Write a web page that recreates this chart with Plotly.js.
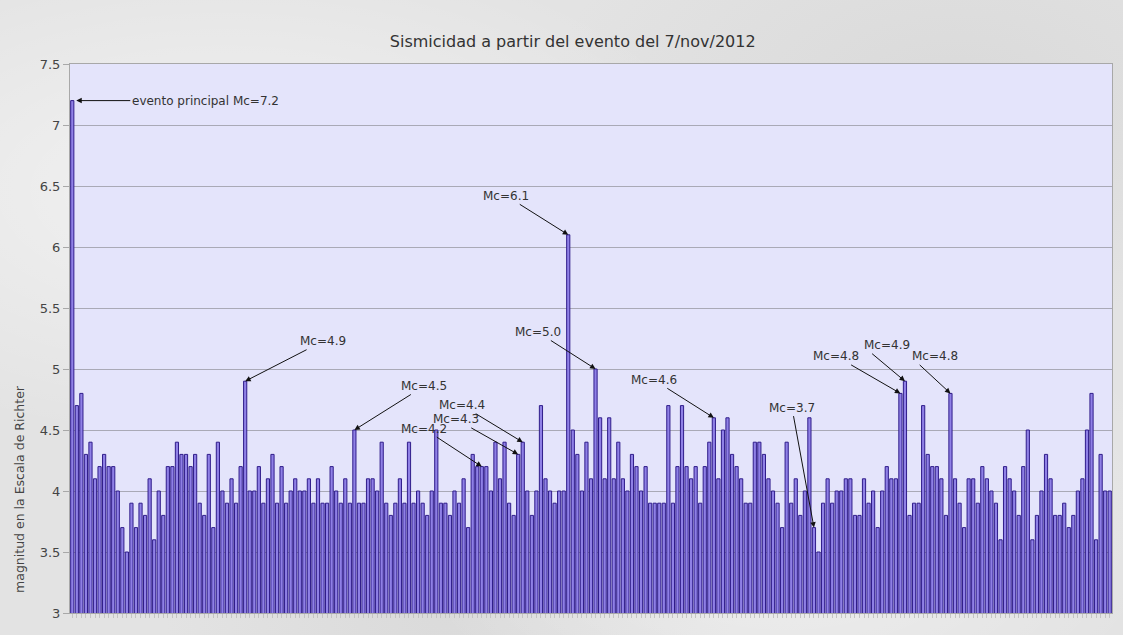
<!DOCTYPE html>
<html>
<head>
<meta charset="utf-8">
<script src="https://cdn.plot.ly/plotly-3.0.1.min.js"></script>
<style>
  html, body { margin: 0; padding: 0; }
  body {
    width: 1123px; height: 635px; overflow: hidden;
    background-color: #e3e3e3;
    background-image:
      radial-gradient(ellipse at 20% 30%, rgba(255,255,255,0.55), rgba(255,255,255,0) 40%),
      radial-gradient(ellipse at 70% 80%, rgba(255,255,255,0.45), rgba(255,255,255,0) 35%),
      radial-gradient(ellipse at 85% 15%, rgba(200,200,200,0.35), rgba(200,200,200,0) 30%),
      radial-gradient(ellipse at 40% 95%, rgba(205,205,205,0.4), rgba(205,205,205,0) 30%);
  }
  #chart { width: 1123px; height: 635px; }
</style>
</head>
<body>
<div id="chart"></div>
<script>
// Magnitudes of each seismic event, in order, from the main event of 7/nov/2012
const magnitudes = [
  7.2, 4.7, 4.8, 4.3, 4.4, 4.1, 4.2, 4.3, 4.2, 4.2,
  4.0, 3.7, 3.5, 3.9, 3.7, 3.9, 3.8, 4.1, 3.6, 4.0,
  3.8, 4.2, 4.2, 4.4, 4.3, 4.3, 4.2, 4.3, 3.9, 3.8,
  4.3, 3.7, 4.4, 4.0, 3.9, 4.1, 3.9, 4.2, 4.9, 4.0,
  4.0, 4.2, 3.9, 4.1, 4.3, 3.9, 4.2, 3.9, 4.0, 4.1,
  4.0, 4.0, 4.1, 3.9, 4.1, 3.9, 3.9, 4.2, 4.0, 3.9,
  4.1, 3.9, 4.5, 3.9, 3.9, 4.1, 4.1, 4.0, 4.4, 3.9,
  3.8, 3.9, 4.1, 3.9, 4.4, 3.9, 4.0, 3.9, 3.8, 4.0,
  4.5, 3.9, 3.9, 3.8, 4.0, 3.9, 4.1, 3.7, 4.3, 4.2,
  4.2, 4.2, 4.0, 4.4, 4.1, 4.4, 3.9, 3.8, 4.3, 4.4,
  4.0, 3.8, 4.0, 4.7, 4.1, 4.0, 3.9, 4.0, 4.0, 6.1,
  4.5, 4.3, 4.0, 4.4, 4.1, 5.0, 4.6, 4.1, 4.6, 4.1,
  4.4, 4.1, 4.0, 4.3, 4.2, 4.0, 4.2, 3.9, 3.9, 3.9,
  3.9, 4.7, 3.9, 4.2, 4.7, 4.2, 4.1, 4.2, 3.9, 4.2,
  4.4, 4.6, 4.1, 4.5, 4.6, 4.3, 4.2, 4.1, 3.9, 3.9,
  4.4, 4.4, 4.3, 4.1, 4.0, 3.9, 3.7, 4.4, 3.9, 4.1,
  3.8, 4.0, 4.6, 3.7, 3.5, 3.9, 4.1, 3.9, 4.0, 4.0,
  4.1, 4.1, 3.8, 3.8, 4.1, 3.9, 4.0, 3.7, 4.0, 4.2,
  4.1, 4.1, 4.8, 4.9, 3.8, 3.9, 3.9, 4.7, 4.3, 4.2,
  4.2, 4.1, 3.8, 4.8, 4.1, 3.9, 3.7, 4.1, 4.1, 3.9,
  4.2, 4.1, 4.0, 3.9, 3.6, 4.2, 4.1, 4.0, 3.8, 4.2,
  4.5, 3.6, 3.8, 4.0, 4.3, 4.1, 3.8, 3.8, 3.9, 3.7,
  3.8, 4.0, 4.1, 4.5, 4.8, 3.6, 4.3, 4.0, 4.0
];

// Event number (1-based) of each labelled event and its label text
const labelledEvents = [39, 63, 91, 99, 100, 110, 116, 142, 164, 183, 184, 194];
const labelTexts = ["Mc=4.9", "Mc=4.5", "Mc=4.2", "Mc=4.3", "Mc=4.4", "Mc=6.1",
                    "Mc=5.0", "Mc=4.6", "Mc=3.7", "Mc=4.8", "Mc=4.9", "Mc=4.8"];
// Pixel offsets of each label from the bar top it points to, and anchoring
const labelOffsetX = [78, 70, -58, -62, -61, -62, -58, -60, -22, -64, -43, -40];
const labelOffsetY = [-40, -44, -38, -35, -37, -39, -37, -38, -120, -37, -36, -37];
const labelAnchor = ['center', 'center', 'center', 'center', 'center', 'center',
                     'center', 'center', 'center', 'center', 'left', 'left'];

const mainEventLabel = "evento principal Mc=7.2";
const yTicks = [3, 3.5, 4, 4.5, 5, 5.5, 6, 6.5, 7, 7.5];
const yTickText = ["3", "3.5", "4", "4.5", "5", "5.5", "6", "6.5", "7", "7.5"];

const eventNumbers = magnitudes.map((_, i) => i + 1);

const trace = {
  type: 'bar',
  x: eventNumbers,
  y: magnitudes,
  marker: { color: '#8f80e6', line: { color: '#2f1c8a', width: 1 } },
  hoverinfo: 'x+y'
};

const annotations = labelledEvents.map((ev, k) => ({
  x: ev, y: magnitudes[ev - 1], xref: 'x', yref: 'y',
  text: labelTexts[k],
  showarrow: true, arrowhead: 2, arrowsize: 1.1, arrowwidth: 1, arrowcolor: '#111',
  ax: labelOffsetX[k], ay: labelOffsetY[k], xanchor: labelAnchor[k],
  font: { family: 'DejaVu Sans, sans-serif', size: 12, color: '#333' }
}));

annotations.push({
  x: 1, y: magnitudes[0], xref: 'x', yref: 'y',
  text: mainEventLabel,
  showarrow: true, arrowhead: 2, arrowsize: 1.1, arrowwidth: 1, arrowcolor: '#111',
  ax: 58, ay: 0, xanchor: 'left', standoff: 4,
  font: { family: 'DejaVu Sans, sans-serif', size: 12, color: '#333' }
});

annotations.push({
  xref: 'paper', yref: 'paper', x: 0, y: 0.226, xshift: -50,
  xanchor: 'center', yanchor: 'middle',
  text: 'magnitud en la Escala de Richter', textangle: -90,
  showarrow: false,
  font: { family: 'DejaVu Sans, sans-serif', size: 12.5, color: '#444' }
});

const layout = {
  width: 1123, height: 635,
  paper_bgcolor: 'rgba(0,0,0,0)',
  plot_bgcolor: '#e4e4fb',
  margin: { l: 70, r: 11, t: 64, b: 22 },
  bargap: 0.3,
  showlegend: false,
  title: {
    text: 'Sismicidad a partir del evento del 7/nov/2012',
    font: { family: 'DejaVu Sans, sans-serif', size: 16, color: '#333' },
    xref: 'container', x: 0.51, xanchor: 'center',
    yref: 'container', y: 0.935, yanchor: 'middle'
  },
  xaxis: {
    range: [0.5, magnitudes.length + 0.5],
    showticklabels: false,
    ticks: 'outside', ticklen: 4, tickcolor: '#c4c4c4', tickwidth: 1,
    tickmode: 'linear', tick0: 1, dtick: 1,
    showgrid: false, zeroline: false,
    showline: true, linecolor: '#a8a8a8', linewidth: 1, mirror: true
  },
  yaxis: {
    range: [3, 7.5],
    tickmode: 'array', tickvals: yTicks, ticktext: yTickText,
    ticks: 'outside', ticklen: 6, tickcolor: '#a8a8a8',
    showgrid: true, gridcolor: '#a9a9b6', gridwidth: 1,
    zeroline: false,
    showline: true, linecolor: '#a8a8a8', linewidth: 1, mirror: true,
    tickfont: { family: 'DejaVu Sans, sans-serif', size: 13, color: '#444' }
  },
  annotations: annotations
};

Plotly.newPlot('chart', [trace], layout, { displayModeBar: false, staticPlot: false });
</script>
</body>
</html>
